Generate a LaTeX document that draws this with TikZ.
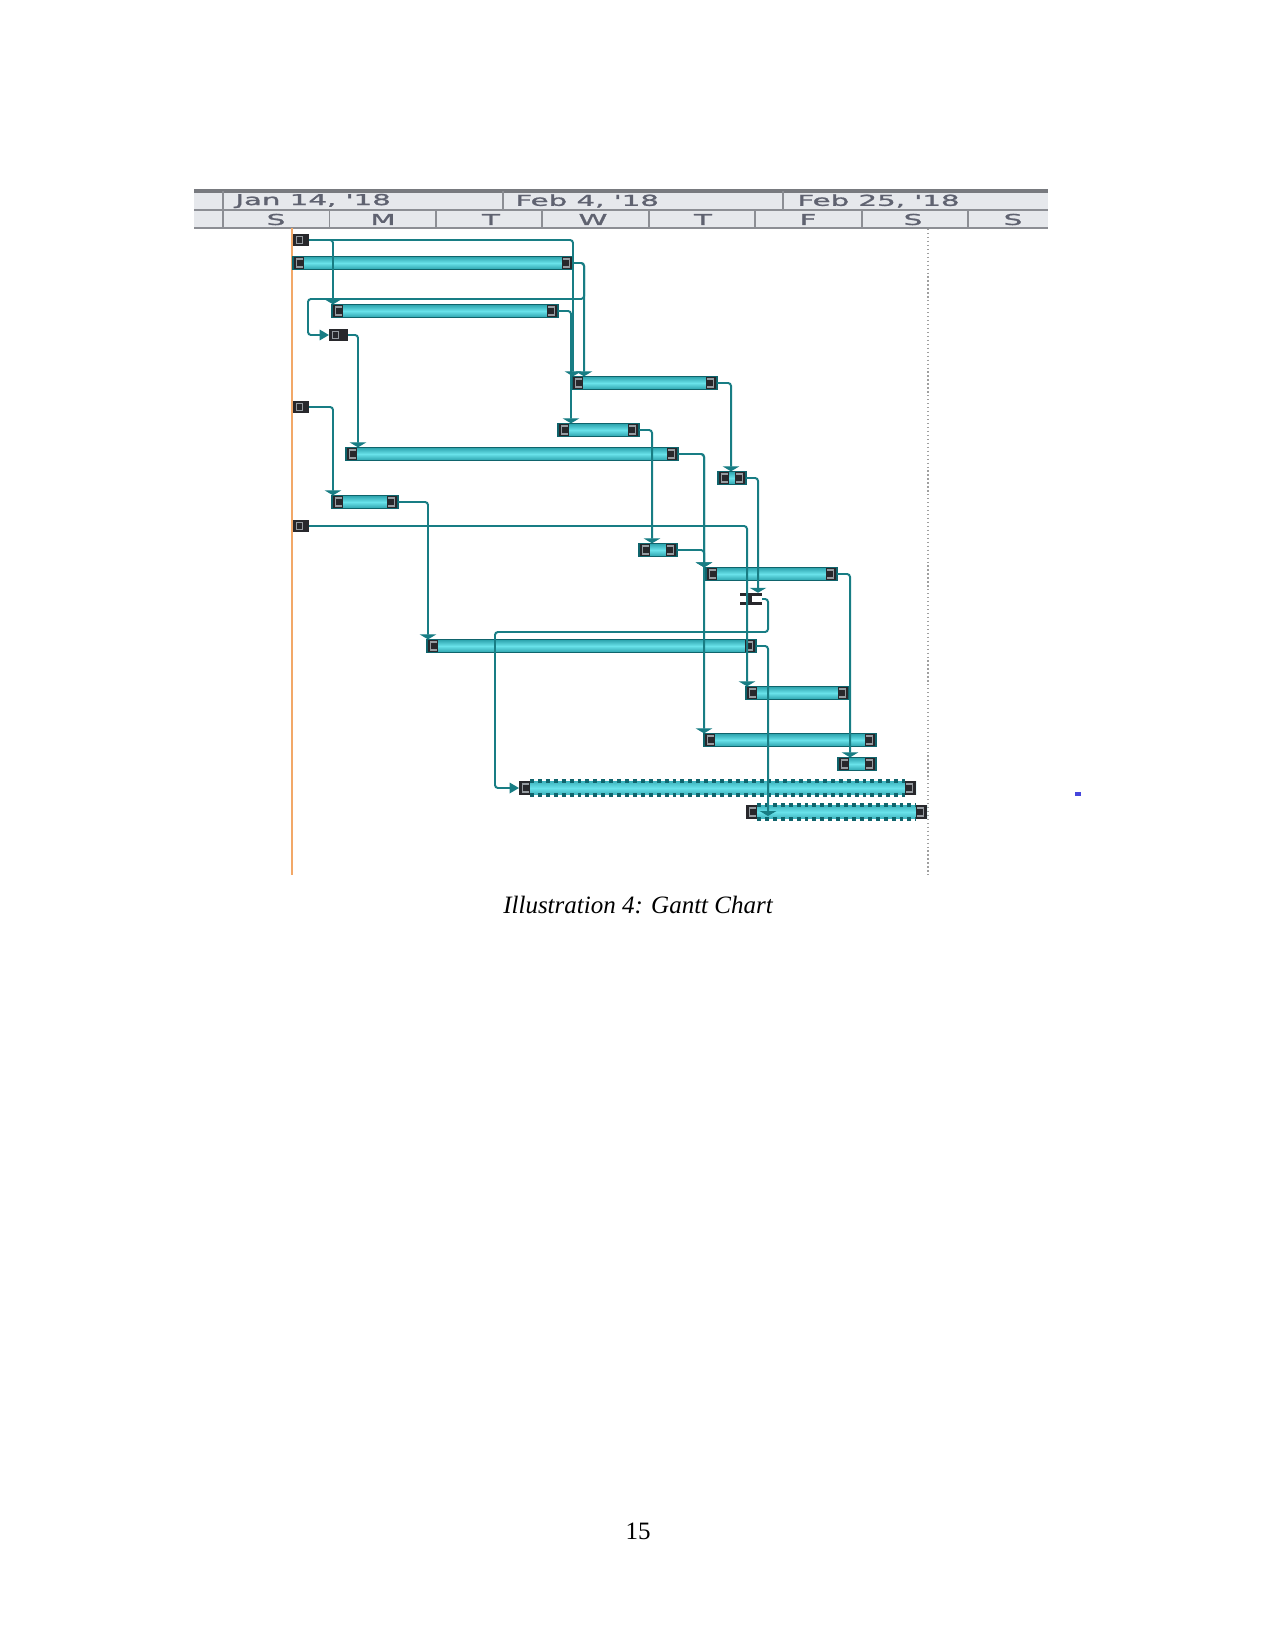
\documentclass[tikz,border=0pt]{standalone}
\usepackage{fontspec}
\setmainfont{Liberation Serif}
\newfontfamily\hdrfont[FakeBold=1.2]{DejaVu Sans}
\usetikzlibrary{arrows.meta,calc}

\definecolor{teal1}{RGB}{24,125,132}
\definecolor{teal2}{RGB}{15,100,108}
\definecolor{barcyan}{RGB}{105,226,234}
\definecolor{barteal}{RGB}{42,160,170}
\definecolor{capdark}{RGB}{40,40,44}
\definecolor{capmark}{RGB}{150,155,160}
\definecolor{hdrbg}{RGB}{230,232,236}
\definecolor{hdrline}{RGB}{140,142,148}
\definecolor{hdrtop}{RGB}{120,122,127}
\definecolor{hdrtext}{RGB}{95,98,112}
\definecolor{todayor}{RGB}{242,168,104}
\definecolor{bluedot}{RGB}{70,70,220}

\newcommand\gbar[5][gbar]{\node[#1, minimum width={(#4-#3)*0.48pt}] (#2) at ({(#3+#4)/2},#5) {};}

\tikzset{
  gcaps/.style={path picture={
    \fill[capdark] (path picture bounding box.south west) rectangle ([xshift=5.4pt]path picture bounding box.north west);
    \fill[capdark] (path picture bounding box.south east) rectangle ([xshift=-5.4pt]path picture bounding box.north east);
    \draw[capmark, line width=0.7pt] ([xshift=4.6pt,yshift=1.3pt]path picture bounding box.south west) -| ([xshift=1.8pt,yshift=-1.3pt]path picture bounding box.north west) -- ([xshift=4.6pt,yshift=-1.3pt]path picture bounding box.north west);
    \draw[capmark, line width=0.7pt] ([xshift=-4.6pt,yshift=1.3pt]path picture bounding box.south east) -| ([xshift=-1.8pt,yshift=-1.3pt]path picture bounding box.north east) -- ([xshift=-4.6pt,yshift=-1.3pt]path picture bounding box.north east);
  }},
  gbar/.style={draw=teal2, line width=0.6pt, top color=barteal, bottom color=barteal, middle color=barcyan,
    minimum height=6.4pt, inner sep=0pt, outer sep=0pt, gcaps},
  gdashbar/.style={top color=barteal!70!barcyan, bottom color=barteal!70!barcyan, middle color=barcyan,
    minimum height=6.4pt, inner sep=0pt, outer sep=0pt, gcaps},
  gsmall/.style={fill=capdark, minimum height=6pt, inner sep=0pt, outer sep=0pt,
    path picture={
      \draw[capmark, line width=0.6pt] ([xshift=1.6pt,yshift=1.4pt]path picture bounding box.south west) rectangle ([xshift=4.4pt,yshift=-1.4pt]path picture bounding box.north west);
    }},
  gibeam/.style={minimum height=6pt, inner sep=0pt, outer sep=0pt},
  conn/.style={draw=teal1, line width=0.95pt, rounded corners=1.4pt},
  dn/.style={-{Triangle[width=8pt,length=2.4pt]}},
  rt/.style={-{Triangle[width=5pt,length=4.5pt]}},
  hdr/.style={font=\hdrfont\fontsize{7.2}{8}\selectfont, text=hdrtext, inner sep=0pt},
  dashedge/.style={draw=teal2, line width=1.8pt, dash pattern=on 1.9pt off 1.9pt}
}

\begin{document}
\begin{tikzpicture}[x=0.48pt,y=-0.48pt]
\useasboundingbox (0,0) rectangle (1275,1650);

% ---------- timescale header ----------
\fill[hdrbg] (194,191) rectangle (1048,228);
\draw[hdrline, line width=0.6pt] (194,210) -- (1048,210);
\draw[hdrline, line width=0.8pt] (194,228) -- (1048,228);
\draw[hdrtop, line width=1.5pt] (194,191) -- (1048,191);
\foreach \xx in {223,503,783} \draw[hdrline, line width=0.8pt] (\xx,191) -- (\xx,210);
\foreach \xx in {223,329.5,436,542,649,755,862,968} \draw[hdrline, line width=0.8pt] (\xx,210) -- (\xx,228);
\node[hdr, anchor=west] (wk1) at (235,201) {\scalebox{1.95}[1]{Jan 14, \textquotesingle18}};
\node[hdr, anchor=west] (wk2) at (515,201) {\scalebox{1.95}[1]{Feb 4, \textquotesingle18}};
\node[hdr, anchor=west] (wk3) at (797,201) {\scalebox{1.95}[1]{Feb 25, \textquotesingle18}};
\node[hdr] (d1) at (276,219.5) {\scalebox{1.95}[1]{S}};
\node[hdr] (d2) at (383,219.5) {\scalebox{1.95}[1]{M}};
\node[hdr] (d3) at (491,219.5) {\scalebox{1.95}[1]{T}};
\node[hdr] (d4) at (593,219.5) {\scalebox{1.95}[1]{W}};
\node[hdr] (d5) at (703,219.5) {\scalebox{1.95}[1]{T}};
\node[hdr] (d6) at (808,219.5) {\scalebox{1.95}[1]{F}};
\node[hdr] (d7) at (913,219.5) {\scalebox{1.95}[1]{S}};
\node[hdr] (d8) at (1013,219.5) {\scalebox{1.95}[1]{S}};

% ---------- today line and deadline ----------
\draw[todayor, line width=1.1pt] (292,228) -- (292,875);
\draw[gray!75, line width=1pt, dash pattern=on 0.6pt off 1.3pt] (928,229) -- (928,875);

% ---------- task bars ----------
\gbar[gsmall]{A}{293}{309}{240}
\gbar{B}{293}{573}{263}
\gbar{C}{332}{558}{311}
\gbar[gsmall]{D}{329}{348}{335}
\gbar{E}{572}{717}{383}
\gbar[gsmall]{F}{293}{309}{407}
\gbar{G}{558}{639}{430}
\gbar{H}{346}{678}{454}
\gbar{I}{718}{746}{478}
\gbar{J}{332}{398}{502}
\gbar[gsmall]{K}{293}{309}{526}
\gbar{L}{639}{677}{550}
\gbar{M}{706}{837}{574}
\gbar[gibeam]{N}{740}{762}{599}
\fill[capdark] (N.north west) rectangle ($(N.north east)+(0,3.5)$);
\fill[capdark] (N.south west) rectangle ($(N.south east)+(0,-3.5)$);
\fill[capdark] ($(N.north west)+(6,0)$) rectangle ($(N.south west)+(12,0)$);
\gbar{O}{427}{756}{646}
\gbar{P}{746}{849}{693}
\gbar{Q}{704}{876}{740}
\gbar{R}{838}{876}{764}
\gbar[gdashbar]{S}{519}{916}{788}
\gbar[gdashbar]{T}{746}{927}{812}
\draw[dashedge] ($(S.north west)+(11,0)$) -- ($(S.north east)+(-11,0)$);
\draw[dashedge] ($(S.south west)+(11,0)$) -- ($(S.south east)+(-11,0)$);
\draw[dashedge] ($(T.north west)+(11,0)$) -- ($(T.north east)+(-11,0)$);
\draw[dashedge] ($(T.south west)+(11,0)$) -- ($(T.south east)+(-11,0)$);

% ---------- dependency links ----------
\draw[conn,dn] (A.east) -| ($(C.north west)+(1,0)$);
\draw[conn,dn] (A.east) -| ($(E.north west)+(1,0)$);
\draw[conn,dn] (B.east) -| ($(E.north west)+(12,0)$);
\draw[conn,rt] (B.east) -- ++(11,0) -- ++(0,36) -| ($(D.west)+(-21,0)$) -- (D.west);
\draw[conn,dn] (C.east) -| ($(G.north west)+(13,0)$);
\draw[conn,dn] (D.east) -| ($(H.north west)+(12,0)$);
\draw[conn,dn] (F.east) -| ($(J.north west)+(1,0)$);
\draw[conn,dn] (J.east) -| ($(O.north west)+(1,0)$);
\draw[conn,dn] (E.east) -| ($(I.north west)+(13,0)$);
\draw[conn,dn] (G.east) -| ($(L.north west)+(13,0)$);
\draw[conn,dn] (H.east) -| ($(M.north west)+(-2,0)$);
\draw[conn,dn] (H.east) -| ($(Q.north west)+(0,0)$);
\draw[conn,dn] (L.east) -| ($(M.north west)+(-2,0)$);
\draw[conn,dn] (K.east) -| ($(P.north west)+(1,0)$);
\draw[conn,dn] (I.east) -| ($(N.north west)+(18,0)$);
\draw[conn,rt] (N.east) -- ++(6,0) -- ++(0,33) -| ($(S.west)+(-24,0)$) -- (S.west);
\draw[conn,dn] (O.east) -| ($(T.west)+(22,4)$);
\draw[conn,dn] (M.east) -| ($(R.north west)+(12,0)$);

% stray mark
\fill[bluedot] (1075,792) rectangle (1081,795.5);

% ---------- caption and page number ----------
\node[font=\itshape\fontsize{12}{14}\selectfont, anchor=base, inner sep=0pt] (caption) at (638,913) {Illustration 4: Gantt Chart};
\node[font=\fontsize{12}{14}\selectfont, anchor=base, inner sep=0pt] (pagenum) at (638,1539) {15};
\end{tikzpicture}
\end{document}
